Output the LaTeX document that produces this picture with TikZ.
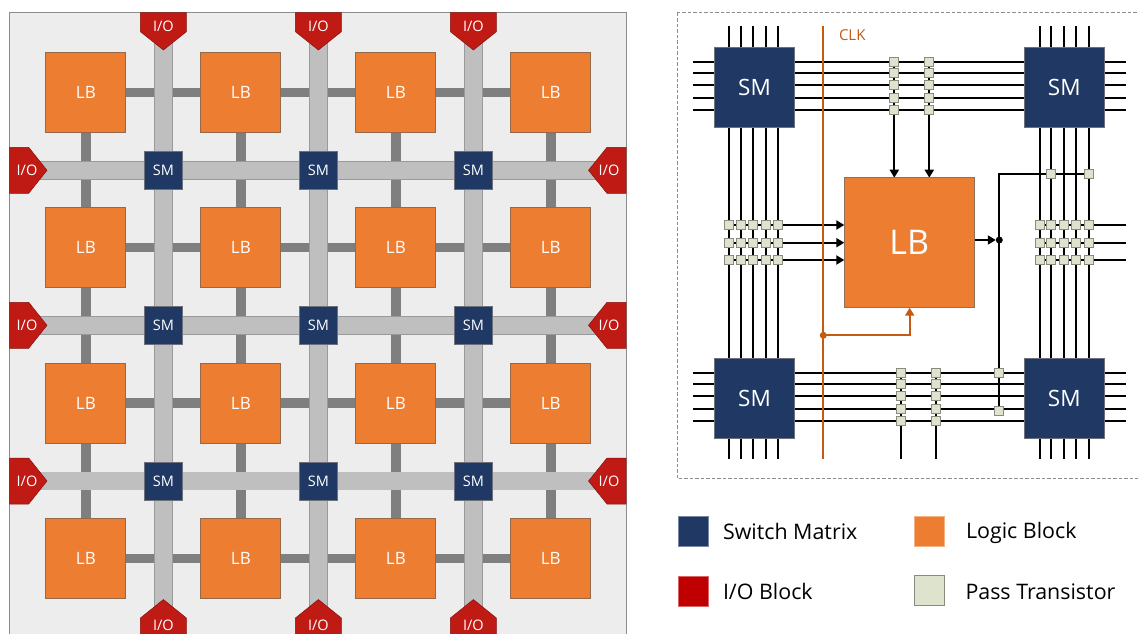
\documentclass[tikz,border=0pt]{standalone}
\usepackage{fontspec}
\setmainfont{Open Sans}
\usetikzlibrary{arrows.meta,calc}
\definecolor{navy}{HTML}{1F3864}
\definecolor{lborange}{HTML}{ED7D31}
\definecolor{lbedge}{HTML}{96694A}
\definecolor{iored}{HTML}{C01A14}
\definecolor{legred}{HTML}{C00000}
\definecolor{passfill}{HTML}{DEE3CD}
\definecolor{passedge}{HTML}{8A8B7E}
\definecolor{clk}{HTML}{C55A11}
\definecolor{panel}{HTML}{EDEDED}
\definecolor{railfill}{HTML}{BFBFBF}
\definecolor{railedge}{HTML}{9A9A9A}
\definecolor{conn}{HTML}{7F7F7F}
\pgfdeclarelayer{back}
\pgfdeclarelayer{mid}
\pgfsetlayers{back,mid,main}
\tikzset{
  x=1pt,y=-1pt,
  every node/.style={inner sep=0pt,outer sep=0pt},
  lbbox/.style={draw=lbedge,line width=.9pt,fill=lborange,text=white,minimum size=80pt,font=\fontsize{17}{17}\selectfont},
  lbbig/.style={draw=lbedge!70!gray,line width=.9pt,fill=lborange,text=white,minimum size=130pt,font=\fontsize{34}{34}\selectfont},
  smbox/.style={draw=gray!80!navy,line width=.7pt,fill=navy,text=white,minimum size=38pt,font=\fontsize{14.5}{14.5}\selectfont},
  smbig/.style={draw=gray!80!navy,line width=.7pt,fill=navy,text=white,minimum size=80pt,font=\fontsize{22.5}{22.5}\selectfont},
  iotext/.style={text=white,font=\fontsize{14.5}{14.5}\selectfont},
  iopoly/.style={fill=iored,draw=iored!70!black,line width=.5pt},
  link/.style={draw=conn,line width=9.5pt},
  rail/.style={draw=railedge,line width=.6pt,double=railfill,double distance=17.4pt},
  wire/.style={draw=black,line width=2pt},
  feed/.style={draw=black,line width=2pt,-{Triangle[length=8pt,width=9pt]}},
  clkline/.style={draw=clk,line width=2.2pt},
  clkfeed/.style={draw=clk,line width=2.2pt,-{Triangle[length=8pt,width=9pt]}},
  passbox/.style={draw=passedge,line width=1pt,fill=passfill,minimum size=8.8pt},
  legtext/.style={anchor=base west,text=black,font=\fontsize{21.4}{21.4}\selectfont},
  legkey/.style={minimum size=30pt},
}
\begin{document}
\begin{tikzpicture}
\useasboundingbox (0,0) rectangle (1138,633);
\clip (0,0) rectangle (1138,633);
% ---------- left panel
\begin{pgfonlayer}{back}
  \draw[draw=gray!90,fill=panel,line width=.9pt] (9.7,12.5) rectangle (626,640);
\end{pgfonlayer}
% logic blocks
\foreach \r/\y in {1/92.5,2/247.7,3/403,4/558.4}
  \foreach \c/\x in {1/85.9,2/240.9,3/395.9,4/550.8}
    \node[lbbox] (L\r\c) at (\x,\y) {LB};
% switch matrices
\foreach \r/\y in {1/170.3,2/325.3,3/481}
  \foreach \c/\x in {1/163.4,2/318.4,3/473.4}
    \node[smbox] (S\r\c) at (\x,\y) {SM};
% I/O blocks
\foreach \c/\x in {1/163.4,2/318.4,3/473.4}{
  \fill[iopoly] (\x-23,12.5) -- (\x+23,12.5) -- (\x+23,31.7) -- (\x,50) -- (\x-23,31.7) -- cycle;
  \node[iotext] (IOT\c) at (\x,26.5) {I/O};
  \fill[iopoly] (\x-23,640) -- (\x+23,640) -- (\x+23,618) -- (\x,599.5) -- (\x-23,618) -- cycle;
  \node[iotext] (IOB\c) at (\x,625) {I/O};
}
\foreach \r/\y in {1/170.3,2/325.3,3/481}{
  \fill[iopoly] (9.7,\y-23) -- (28.7,\y-23) -- (47,\y) -- (28.7,\y+23) -- (9.7,\y+23) -- cycle;
  \node[iotext] (IOL\r) at (27,\y) {I/O};
  \fill[iopoly] (626,\y-23) -- (607,\y-23) -- (588.5,\y) -- (607,\y+23) -- (626,\y+23) -- cycle;
  \node[iotext] (IOR\r) at (609,\y) {I/O};
}
\begin{pgfonlayer}{mid}
  \foreach \r in {1,2,3,4}{
    \draw[link] (L\r1) -- (L\r2);
    \draw[link] (L\r2) -- (L\r3);
    \draw[link] (L\r3) -- (L\r4);
  }
  \foreach \c in {1,2,3,4}{
    \draw[link] (L1\c) -- (L2\c);
    \draw[link] (L2\c) -- (L3\c);
    \draw[link] (L3\c) -- (L4\c);
  }
  \foreach \c in {1,2,3} \draw[rail] (IOT\c.center) -- (IOB\c.center);
  \foreach \r in {1,2,3} \draw[rail] (IOL\r.center) -- (IOR\r.center);
\end{pgfonlayer}
% ---------- right panel
\begin{pgfonlayer}{back}
  \draw[draw=gray!90,line width=.7pt,dash pattern=on 3.5pt off 2pt] (677,12.5) rectangle (1145,478.3);
\end{pgfonlayer}
\node[smbig] (SMa) at (754.5,87.5) {SM};
\node[smbig] (SMb) at (1064.3,87.5) {SM};
\node[smbig] (SMc) at (754.5,398.2) {SM};
\node[smbig] (SMd) at (1064.3,398.2) {SM};
\node[lbbig] (BIG) at (909.3,242.7) {LB};
\node[anchor=west,text=clk,font=\fontsize{15}{15}\selectfont] (CLKL) at (839,35) {CLK};
% wire ends
\foreach \i/\y in {1/62,2/72.7,3/85.3,4/98,5/110.3,6/373,7/384,8/396.3,9/409,10/421.3}{
  \coordinate (HL\i) at (693.3,\y);
  \coordinate (HR\i) at (1125.7,\y);
}
\foreach \j/\x in {1/729.3,2/740.7,3/753,4/765.7,5/778,6/1040.3,7/1051.3,8/1064,9/1076.3,10/1089}{
  \coordinate (VT\j) at (\x,26.3);
  \coordinate (VB\j) at (\x,459);
}
\coordinate (CT) at (823.3,26.3);
\coordinate (CB) at (823.3,459);
\coordinate (RE1) at (1125.7,225);
\coordinate (RE2) at (1125.7,242.7);
\coordinate (RE3) at (1125.7,260);
% pass transistors, top and bottom wire groups
\foreach \i/\y in {1/62,2/72.7,3/85.3,4/98,5/110.3}{
  \node[passbox] (TA\i) at (894.3,\y) {};
  \node[passbox] (TB\i) at (929.3,\y) {};
}
\foreach \i/\y in {1/373,2/384,3/396.3,4/409,5/421.3}{
  \node[passbox] (BA\i) at (901.3,\y) {};
  \node[passbox] (BB\i) at (936.3,\y) {};
}
\coordinate (BAE) at (901.3,459);
\coordinate (BBE) at (936.3,459);
% pass transistors, left and right wire groups
\foreach \i/\y in {1/225,2/242.7,3/260}{
  \foreach \j/\x in {1/729.3,2/740.7,3/753,4/765.7,5/778}
    \node[passbox] (PL\i\j) at (\x,\y) {};
  \foreach \j/\x in {1/1040.3,2/1051.3,3/1064,4/1076.3,5/1089}
    \node[passbox] (PR\i\j) at (\x,\y) {};
}
% output network
\node[circle,fill=black,minimum size=7pt] (OUT) at (999.3,240) {};
\node[passbox] (Q1) at (1051.3,173.7) {};
\node[passbox] (Q2) at (1089,173.7) {};
\node[passbox] (R1) at (999.3,373) {};
\node[passbox] (R2) at (999.3,410.7) {};
% clock tap
\node[circle,fill=clk,minimum size=7pt] (TAP) at (823.3,335.3) {};
\coordinate (TAPT) at (909.7,307.7);
\begin{pgfonlayer}{mid}
  \foreach \i in {1,...,10} \draw[wire] (HL\i) -- (HR\i);
  \foreach \j in {1,...,10} \draw[wire] (VT\j) -- (VB\j);
  \draw[feed] (TA1.center) -- (TA1 |- BIG.north);
  \draw[feed] (TB1.center) -- (TB1 |- BIG.north);
  \draw[wire] (BA1.center) -- (BAE);
  \draw[wire] (BB1.center) -- (BBE);
  \foreach \i in {1,2,3}{
    \draw[feed] (PL\i1.center) -- (PL\i1 -| BIG.west);
    \draw[wire] (PR\i1.center) -- (RE\i);
  }
  \draw[wire] (Q2.center) -- (Q2 -| OUT) -- (R2.center);
  \draw[feed] (OUT -| BIG.east) -- (OUT.west);
  \draw[clkline] (CT) -- (CB);
  \draw[clkfeed] (TAP.center) -| (TAPT);
\end{pgfonlayer}
% ---------- legend
\node[legkey,fill=navy,draw=navy!60!white,line width=.4pt] (K1) at (693.3,531) {};
\node[legkey,fill=legred,draw=legred!60!white,line width=.4pt] (K2) at (693.3,591) {};
\node[legkey,fill=lborange,draw=lborange!60!white,line width=.4pt] (K3) at (929.5,530.8) {};
\node[legkey,fill=passfill,draw=passedge,line width=.9pt] (K4) at (929.5,590.5) {};
\node[legtext] (T1) at (723,539.7) {Switch Matrix};
\node[legtext] (T2) at (723,599.7) {I/O Block};
\node[legtext] (T3) at (966,538.7) {Logic Block};
\node[legtext] (T4) at (965.5,599) {Pass Transistor};
\end{tikzpicture}
\end{document}
